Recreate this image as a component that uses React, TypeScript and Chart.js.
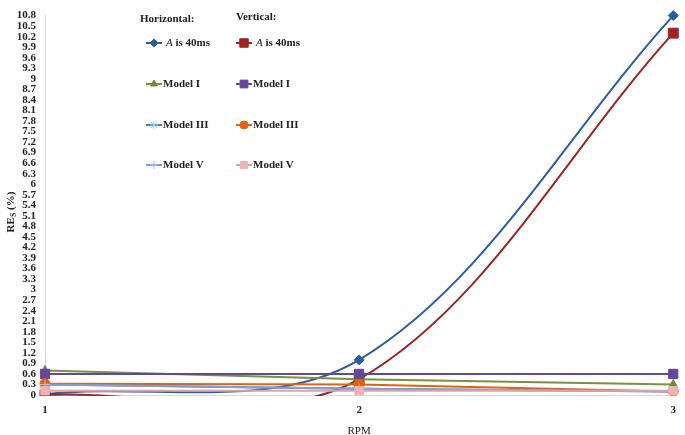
import React, { useEffect, useRef } from "react";
import { Chart, registerables } from "chart.js";
import { drawPoint } from "chart.js/helpers";

Chart.register(...registerables);

const rpm = [1, 2, 3];
const hA40 = [0.02, 1.0, 10.8];
const vA40 = [0.0, 0.45, 10.3];
const hModelI = [0.7, 0.45, 0.3];
const vModelI = [0.6, 0.6, 0.6];
const hModelIII = [0.3, 0.18, 0.1];
const vModelIII = [0.32, 0.3, 0.1];
const hModelV = [0.3, 0.18, 0.1];
const vModelV = [0.12, 0.12, 0.12];

const FONT = "'Liberation Serif', 'Times New Roman', serif";

type S = {
  label: string;
  data: number[];
  color: string;
  mFill: string;
  mBorder: string;
  style: string;
  radius: number;
  tension: number;
  italicA?: boolean;
};

const seriesH: S[] = [
  { label: "is 40ms", data: hA40, color: "#2B5DA6", mFill: "#2B5DA6", mBorder: "#2B5DA6", style: "rectRot", radius: 5, tension: 0.34, italicA: true },
  { label: "Model I", data: hModelI, color: "#77933C", mFill: "#6F8A35", mBorder: "#6F8A35", style: "triangle", radius: 5, tension: 0 },
  { label: "Model III", data: hModelIII, color: "#2C8DBE", mFill: "#9AD4EC", mBorder: "#9AD4EC", style: "star", radius: 5, tension: 0 },
  { label: "Model V", data: hModelV, color: "#7F9FD8", mFill: "#A9BFE6", mBorder: "#A9BFE6", style: "cross", radius: 5, tension: 0 },
];
const seriesV: S[] = [
  { label: "is 40ms", data: vA40, color: "#A12323", mFill: "#A12323", mBorder: "#A12323", style: "rect", radius: 7, tension: 0.34, italicA: true },
  { label: "Model I", data: vModelI, color: "#65479A", mFill: "#65479A", mBorder: "#65479A", style: "rect", radius: 6.5, tension: 0 },
  { label: "Model III", data: vModelIII, color: "#E2620E", mFill: "#E2620E", mBorder: "#E2620E", style: "circle", radius: 5, tension: 0 },
  { label: "Model V", data: vModelV, color: "#E5A0A3", mFill: "#EDB3B5", mBorder: "#EDB3B5", style: "rect", radius: 6, tension: 0 },
];

// later entries are drawn on top
const drawOrder: S[] = [
  seriesH[0], seriesV[0], seriesH[1], seriesV[1], seriesH[2], seriesV[2], seriesH[3], seriesV[3],
];

const overlay = {
  id: "overlay",
  afterDraw(chart: any) {
    const ctx = chart.ctx as CanvasRenderingContext2D;
    const area = chart.chartArea;
    ctx.save();
    ctx.fillStyle = "#222";
    ctx.textBaseline = "middle";
    ctx.font = `bold 11px ${FONT}`;
    ctx.textAlign = "left";
    ctx.fillText("Horizontal:", 140, 19);
    ctx.fillText("Vertical:", 236, 17);
    const rows = [43, 84, 125, 165];
    const cols = [
      { list: seriesH, x1: 146, x2: 162, tx: 163 },
      { list: seriesV, x1: 236, x2: 252, tx: 253 },
    ];
    cols.forEach((c) => {
      c.list.forEach((s, i) => {
        const y = rows[i];
        ctx.strokeStyle = s.color;
        ctx.lineWidth = 2;
        ctx.beginPath();
        ctx.moveTo(c.x1, y);
        ctx.lineTo(c.x2, y);
        ctx.stroke();
        ctx.fillStyle = s.mFill;
        ctx.strokeStyle = s.mBorder;
        ctx.lineWidth = 1;
        drawPoint(ctx, { pointStyle: s.style as any, radius: s.radius - 1, rotation: 0, borderWidth: 1 }, (c.x1 + c.x2) / 2, y);
        ctx.fillStyle = "#222";
        let tx = c.tx;
        if (s.italicA) {
          ctx.font = `italic 11px ${FONT}`;
          ctx.fillText("A", tx + 3, y);
          tx += 3 + ctx.measureText("A").width;
          ctx.font = `bold 11px ${FONT}`;
          ctx.fillText(" " + s.label, tx, y);
        } else {
          ctx.font = `bold 11px ${FONT}`;
          ctx.fillText(s.label, tx, y);
        }
      });
    });
    // y title
    ctx.save();
    ctx.translate(11, 212);
    ctx.rotate(-Math.PI / 2);
    ctx.fillStyle = "#222";
    const p1 = "RE";
    const p3 = " (%)";
    ctx.font = `bold 11px ${FONT}`;
    const w1 = ctx.measureText(p1).width;
    ctx.font = `bold 8px ${FONT}`;
    const w2 = ctx.measureText("S").width;
    ctx.font = `bold 11px ${FONT}`;
    const w3 = ctx.measureText(p3).width;
    let x0 = -(w1 + w2 + w3) / 2;
    ctx.textAlign = "left";
    ctx.fillText(p1, x0, 0);
    x0 += w1;
    ctx.font = `bold 8px ${FONT}`;
    ctx.fillText("S", x0, 3);
    x0 += w2;
    ctx.font = `bold 11px ${FONT}`;
    ctx.fillText(p3, x0, 0);
    ctx.restore();
    // x title
    ctx.font = `11px ${FONT}`;
    ctx.textAlign = "center";
    ctx.fillStyle = "#222";
    ctx.fillText("RPM", (area.left + area.right) / 2, 431);
    ctx.restore();
  },
};

export default function App() {
  const ref = useRef<HTMLCanvasElement>(null);
  useEffect(() => {
    if (!ref.current) return;
    Chart.defaults.font.family = FONT;
    const n = drawOrder.length;
    const chart = new Chart(ref.current, {
      type: "line",
      data: {
        datasets: drawOrder.map((s, i) => ({
          label: s.label,
          order: n - i,
          data: rpm.map((x, j) => ({ x, y: s.data[j] })),
          borderColor: s.color,
          backgroundColor: s.mFill,
          pointBackgroundColor: s.mFill,
          pointBorderColor: s.mBorder,
          pointStyle: s.style as any,
          pointRadius: s.radius,
          pointBorderWidth: 1,
          borderWidth: 2,
          tension: s.tension,
          capBezierPoints: false,
          fill: false,
          clip: { left: 10, right: 10, top: 10, bottom: 1 } as any,
        })),
      },
      options: {
        animation: false,
        responsive: true,
        maintainAspectRatio: false,
        layout: { padding: { left: 0, right: 5, top: 10, bottom: 0 } },
        plugins: { legend: { display: false }, tooltip: { enabled: false } },
        scales: {
          x: {
            type: "linear",
            min: 1,
            max: 3,
            grid: { display: false, drawTicks: false },
            border: { display: true, color: "#D9D9D9", width: 1 },
            ticks: {
              stepSize: 1,
              padding: 9,
              color: "#222",
              font: { size: 11, weight: "bold" },
              callback: (v: any) => String(v),
            },
            afterFit: (s: any) => {
              s.height = 40;
            },
          },
          y: {
            type: "linear",
            min: 0,
            max: 10.8,
            grid: { display: false, drawTicks: false },
            border: { display: true, color: "#D9D9D9", width: 1 },
            ticks: {
              stepSize: 0.3,
              autoSkip: false,
              padding: 9,
              color: "#222",
              font: { size: 11, weight: "bold" },
              callback: (v: any) => String(Math.round(Number(v) * 10) / 10),
            },
            afterFit: (s: any) => {
              s.width = 45;
            },
          },
        },
      },
      plugins: [overlay],
    });
    return () => chart.destroy();
  }, []);
  return (
    <div style={{ position: "absolute", left: 0, top: 0, width: 685, height: 435, background: "#fff" }}>
      <canvas ref={ref} />
    </div>
  );
}
